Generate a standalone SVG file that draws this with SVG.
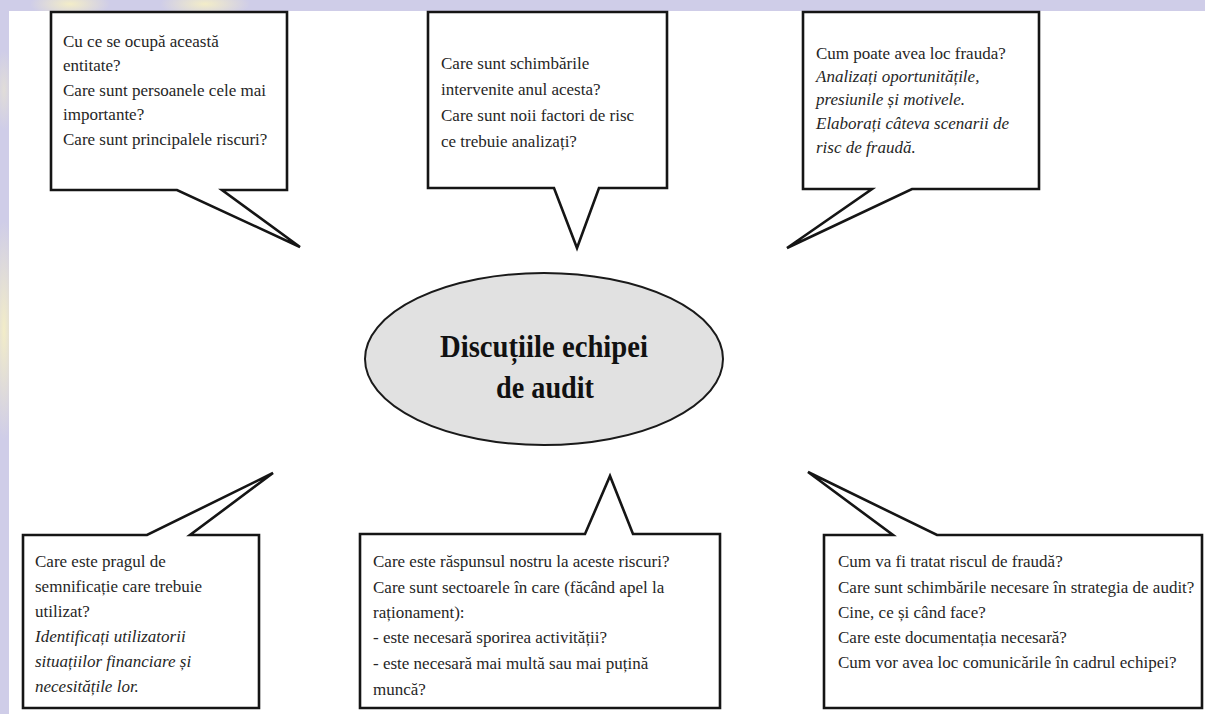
<svg xmlns="http://www.w3.org/2000/svg" width="1205" height="714" viewBox="0 0 1205 714">
<defs>
<radialGradient id="y1" cx="0.5" cy="0.5" r="0.5"><stop offset="0" stop-color="#f3edc8"/><stop offset="1" stop-color="#f3edc8" stop-opacity="0"/></radialGradient>
<style>
.bubble{fill:#ffffff;stroke:#151515;stroke-width:2.6;stroke-linejoin:miter}
.t{font-family:"Liberation Serif","Times New Roman",serif;font-size:17px;fill:#262626}
.i{font-style:italic}
.title{font-family:"Liberation Serif","Times New Roman",serif;font-size:32px;font-weight:bold;fill:#111;text-anchor:middle}
</style>
</defs>
<rect x="0" y="0" width="1205" height="714" fill="#cfcde8"/>
<ellipse cx="70" cy="4" rx="40" ry="14" fill="url(#y1)"/>
<ellipse cx="205" cy="4" rx="45" ry="14" fill="url(#y1)"/>
<ellipse cx="4" cy="330" rx="14" ry="110" fill="url(#y1)"/>
<ellipse cx="4" cy="90" rx="10" ry="40" fill="url(#y1)" opacity="0.5"/>
<rect x="9" y="11" width="1196" height="703" fill="#ffffff"/>
<g id="connectors"></g>
<g id="node-center">
<ellipse cx="544" cy="359" rx="179" ry="86" fill="#e1e1e1" stroke="#1a1a1a" stroke-width="2"/>
<text class="title" x="544" y="357" textLength="208" lengthAdjust="spacingAndGlyphs">Discuțiile echipei</text>
<text class="title" x="545" y="398" textLength="98" lengthAdjust="spacingAndGlyphs">de audit</text>
</g>
<g id="node-top-left">
<path class="bubble" d="M51,12 H287 V190 H222 L300,247 L177,190 H51 Z"/>
<text class="t" x="63" y="46.5">Cu ce se ocupă această</text>
<text class="t" x="63" y="71">entitate?</text>
<text class="t" x="63" y="95.5">Care sunt persoanele cele mai</text>
<text class="t" x="63" y="120">importante?</text>
<text class="t" x="63" y="144.5">Care sunt principalele riscuri?</text>
</g>
<g id="node-top-middle">
<path class="bubble" d="M428,12 H667 V188 H599 L577,248 L554,188 H428 Z"/>
<text class="t" x="441" y="69">Care sunt schimbările</text>
<text class="t" x="441" y="95">intervenite anul acesta?</text>
<text class="t" x="441" y="121">Care sunt noii factori de risc</text>
<text class="t" x="441" y="147">ce trebuie analizați?</text>
</g>
<g id="node-top-right">
<path class="bubble" d="M803,12 H1039 V189 H912 L787,248 L872,189 H803 Z"/>
<text class="t" x="816" y="59">Cum poate avea loc frauda?</text>
<text class="t i" x="816" y="82">Analizați oportunitățile,</text>
<text class="t i" x="816" y="105">presiunile și motivele.</text>
<text class="t i" x="816" y="129">Elaborați câteva scenarii de</text>
<text class="t i" x="816" y="153">risc de fraudă.</text>
</g>
<g id="node-bottom-left">
<path class="bubble" d="M23,535 H147 L273,473 L190,535 H259 V708 H23 Z"/>
<text class="t" x="35" y="567">Care este pragul de</text>
<text class="t" x="35" y="592">semnificație care trebuie</text>
<text class="t" x="35" y="617">utilizat?</text>
<text class="t i" x="35" y="642">Identificați utilizatorii</text>
<text class="t i" x="35" y="667">situațiilor financiare și</text>
<text class="t i" x="35" y="692">necesitățile lor.</text>
</g>
<g id="node-bottom-middle">
<path class="bubble" d="M360,534 H585 L610,476 L633,534 H720 V708 H360 Z"/>
<text class="t" x="373" y="567">Care este răspunsul nostru la aceste riscuri?</text>
<text class="t" x="373" y="593">Care sunt sectoarele în care (făcând apel la</text>
<text class="t" x="373" y="618">raționament):</text>
<text class="t" x="373" y="643">- este necesară sporirea activității?</text>
<text class="t" x="373" y="669">- este necesară mai multă sau mai puțină</text>
<text class="t" x="373" y="695">muncă?</text>
</g>
<g id="node-bottom-right">
<path class="bubble" d="M824,535 H893 L808,472 L937,535 H1202 V708 H824 Z"/>
<text class="t" x="838" y="567">Cum va fi tratat riscul de fraudă?</text>
<text class="t" x="838" y="593">Care sunt schimbările necesare în strategia de audit?</text>
<text class="t" x="838" y="618">Cine, ce și când face?</text>
<text class="t" x="838" y="643">Care este documentația necesară?</text>
<text class="t" x="838" y="668">Cum vor avea loc comunicările în cadrul echipei?</text>
</g>
</svg>
